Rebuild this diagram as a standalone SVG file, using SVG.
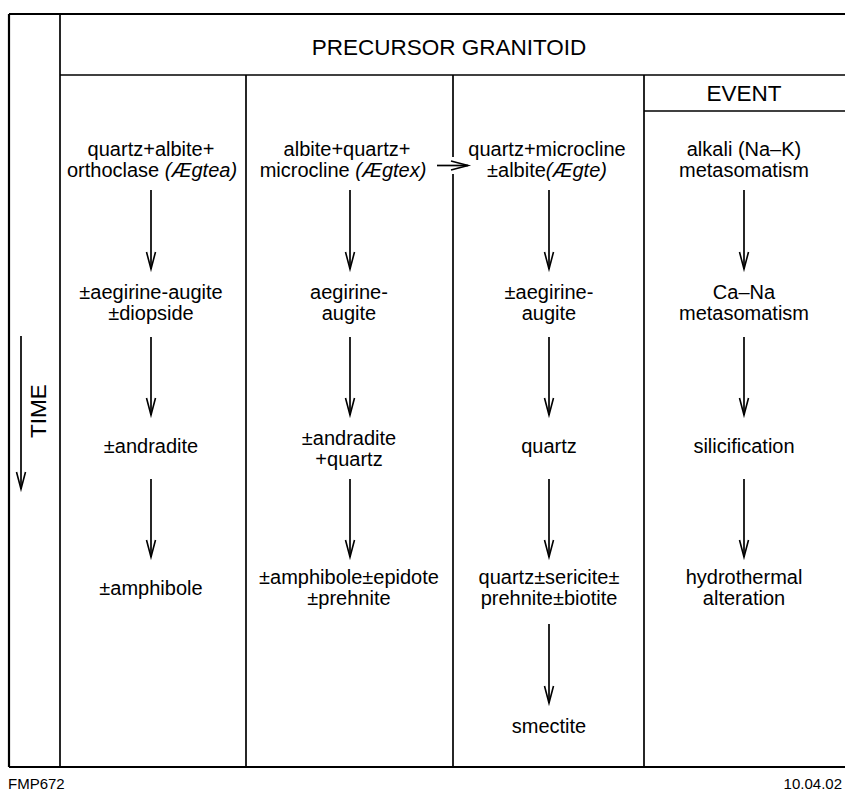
<svg xmlns="http://www.w3.org/2000/svg" width="845" height="794" viewBox="0 0 845 794">
<style>
.t{font-family:"Liberation Sans",Arial,sans-serif;font-size:20px;fill:#000;text-anchor:middle}
.h{font-family:"Liberation Sans",Arial,sans-serif;font-size:22.5px;fill:#000;text-anchor:middle}
.f{font-family:"Liberation Sans",Arial,sans-serif;font-size:15px;fill:#000}
.i{font-style:italic}
.frame{stroke:#000;stroke-width:2.2;fill:none}
.div{stroke:#000;stroke-width:1.7;fill:none}
.arr{stroke:#000;stroke-width:1.7;fill:none;marker-end:url(#v)}
</style>
<defs>
<marker id="v" markerUnits="userSpaceOnUse" viewBox="-19 -6 20 12" refX="0" refY="0" markerWidth="20" markerHeight="12" orient="auto" overflow="visible">
<path d="M-17,-4.5 L0,0 L-17,4.5" fill="none" stroke="#000" stroke-width="1.6"/>
</marker>
</defs>
<g id="frame">
<line class="frame" x1="9" y1="14" x2="845" y2="14"/>
<line class="frame" x1="9" y1="14" x2="9" y2="767"/>
<line class="frame" x1="9" y1="767" x2="845" y2="767"/>
<line class="div" x1="60" y1="14" x2="60" y2="767"/>
<line class="div" x1="60" y1="75" x2="845" y2="75"/>
<line class="div" x1="246" y1="75" x2="246" y2="767"/>
<line class="div" x1="453" y1="75" x2="453" y2="157"/>
<line class="div" x1="453" y1="174" x2="453" y2="767"/>
<line class="div" x1="644" y1="75" x2="644" y2="767"/>
<line class="div" x1="644" y1="111" x2="845" y2="111"/>
</g>
<g id="header">
<text class="h" x="449" y="55">PRECURSOR GRANITOID</text>
<text class="h" x="744" y="101">EVENT</text>
</g>
<g id="time">
<text class="h" transform="translate(46,411) rotate(-90)">TIME</text>
</g>
<g id="col1">
<g id="c1r1"><text class="t" x="151" y="156">quartz+albite+</text><text class="t" x="152" y="177">orthoclase <tspan class="i">(Ægtea)</tspan></text></g>
<g id="c1r2"><text class="t" x="151" y="299">±aegirine-augite</text><text class="t" x="151" y="320">±diopside</text></g>
<g id="c1r3"><text class="t" x="151" y="453">±andradite</text></g>
<g id="c1r4"><text class="t" x="151" y="595">±amphibole</text></g>
</g>
<g id="col2">
<g id="c2r1"><text class="t" x="347" y="156">albite+quartz+</text><text class="t" x="343" y="177">microcline <tspan class="i">(Ægtex)</tspan></text></g>
<g id="c2r2"><text class="t" x="349" y="299">aegirine-</text><text class="t" x="349" y="320">augite</text></g>
<g id="c2r3"><text class="t" x="349" y="445">±andradite</text><text class="t" x="349" y="466">+quartz</text></g>
<g id="c2r4"><text class="t" x="349" y="584">±amphibole±epidote</text><text class="t" x="349" y="605">±prehnite</text></g>
</g>
<g id="col3">
<g id="c3r1"><text class="t" x="547" y="156">quartz+microcline</text><text class="t" x="547" y="177">±albite<tspan class="i">(Ægte)</tspan></text></g>
<g id="c3r2"><text class="t" x="549" y="299">±aegirine-</text><text class="t" x="549" y="320">augite</text></g>
<g id="c3r3"><text class="t" x="549" y="453">quartz</text></g>
<g id="c3r4"><text class="t" x="549" y="584">quartz±sericite±</text><text class="t" x="549" y="605">prehnite±biotite</text></g>
<g id="c3r5"><text class="t" x="549" y="733">smectite</text></g>
</g>
<g id="col4">
<g id="c4r1"><text class="t" x="744" y="156">alkali (Na–K)</text><text class="t" x="744" y="177">metasomatism</text></g>
<g id="c4r2"><text class="t" x="744" y="299">Ca–Na</text><text class="t" x="744" y="320">metasomatism</text></g>
<g id="c4r3"><text class="t" x="744" y="453">silicification</text></g>
<g id="c4r4"><text class="t" x="744" y="584">hydrothermal</text><text class="t" x="744" y="605">alteration</text></g>
</g>
<g id="connectors">
<line class="arr" x1="21" y1="336" x2="21" y2="489"/>
<line class="arr" x1="437" y1="165.5" x2="468" y2="165.5"/>
<line class="arr" x1="151" y1="190" x2="151" y2="269"/>
<line class="arr" x1="350" y1="190" x2="350" y2="269"/>
<line class="arr" x1="549" y1="190" x2="549" y2="269"/>
<line class="arr" x1="744" y1="190" x2="744" y2="269"/>
<line class="arr" x1="151" y1="337" x2="151" y2="415"/>
<line class="arr" x1="350" y1="337" x2="350" y2="415"/>
<line class="arr" x1="549" y1="337" x2="549" y2="415"/>
<line class="arr" x1="744" y1="337" x2="744" y2="415"/>
<line class="arr" x1="151" y1="479" x2="151" y2="557"/>
<line class="arr" x1="350" y1="479" x2="350" y2="557"/>
<line class="arr" x1="549" y1="479" x2="549" y2="557"/>
<line class="arr" x1="744" y1="479" x2="744" y2="557"/>
<line class="arr" x1="549" y1="624" x2="549" y2="703"/>
</g>
<g id="footer">
<text class="f" x="8" y="789">FMP672</text>
<text class="f" x="842" y="789" text-anchor="end">10.04.02</text>
</g>
</svg>
